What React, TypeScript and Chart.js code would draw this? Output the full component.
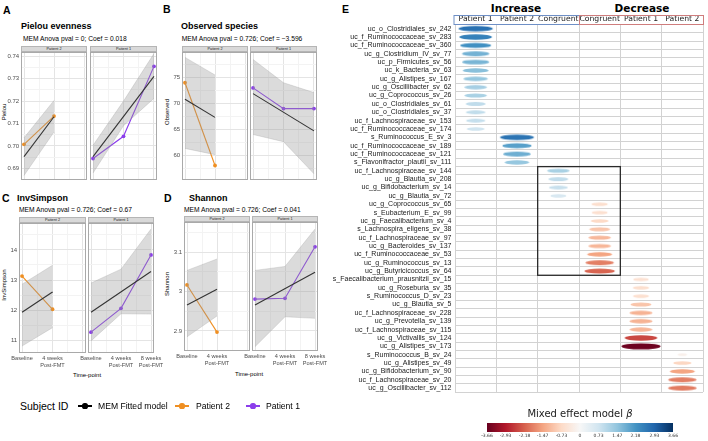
import React, { useEffect, useRef } from "react";
import { Chart, registerables } from "chart.js";
Chart.register(...registerables);

const SANS = "'Liberation Sans', Arial, Helvetica, sans-serif";
const DEJAVU = "'DejaVu Sans', Verdana, sans-serif";

// ---------- Panels A-D data ----------
const timeLabels: (string | string[])[] = ["Baseline", ["4 weeks", "Post-FMT"], ["8 weeks", "Post-FMT"]];
const timeP2 = [1, 2];
const timeP1 = [1, 2, 3];
const fitXP2 = [1, 2];
const fitXP1 = [1, 3];

const pielouTicks = [0.69, 0.7, 0.71, 0.72, 0.73, 0.74];
const pielouTickLabels = ["0.69", "0.70", "0.71", "0.72", "0.73", "0.74"];
const pielouP2 = [0.7007, 0.7133];
const pielouP2Fit = [0.6952, 0.713];
const pielouP2Lo = [0.6868, 0.7062];
const pielouP2Hi = [0.7036, 0.7203];
const pielouP1 = [0.6944, 0.7043, 0.7355];
const pielouP1Fit = [0.6952, 0.731];
const pielouP1Lo = [0.6879, 0.709, 0.7212];
const pielouP1Hi = [0.7003, 0.72, 0.7412];

const observedTicks = [60, 65, 70, 75];
const observedTickLabels = ["60", "65", "70", "75"];
const observedP2 = [74.0, 58.0];
const observedP2Fit = [70.8, 67.3];
const observedP2Lo = [61.3, 60.1];
const observedP2Hi = [78.9, 75.5];
const observedP1 = [73.0, 69.0, 69.0];
const observedP1Fit = [71.9, 64.7];
const observedP1Lo = [64.0, 62.6, 56.4];
const observedP1Hi = [78.5, 74.0, 72.1];

const invSimpsonTicks = [11, 12, 13, 14];
const invSimpsonTickLabels = ["11", "12", "13", "14"];
const invSimpsonP2 = [13.13, 12.03];
const invSimpsonP2Fit = [11.93, 12.6];
const invSimpsonP2Lo = [10.81, 11.42];
const invSimpsonP2Hi = [12.86, 13.49];
const invSimpsonP1 = [11.27, 12.06, 13.83];
const invSimpsonP1Fit = [11.93, 13.28];
const invSimpsonP1Lo = [10.98, 11.88, 11.87];
const invSimpsonP1Hi = [12.9, 13.36, 14.69];

const shannonTicks = [2.9, 3.0, 3.1];
const shannonTickLabels = ["2.9", "3", "3.1"];
const shannonP2 = [3.017, 2.897];
const shannonP2Fit = [2.966, 3.006];
const shannonP2Lo = [2.885, 2.938];
const shannonP2Hi = [3.054, 3.083];
const shannonP1 = [2.981, 2.983, 3.114];
const shannonP1Fit = [2.966, 3.049];
const shannonP1Lo = [2.86, 2.936, 2.932];
const shannonP1Hi = [3.054, 3.064, 3.159];

const ORANGE = "#EF8F22";
const PURPLE = "#8B3DEB";

// ---------- Panel E data ----------
const eColumns = ["Patient 1", "Patient 2", "Congruent", "Congruent", "Patient 1", "Patient 2"];
const taxa = [
  "uc_o_Clostridiales_sv_242",
  "uc_f_Ruminococcaceae_sv_283",
  "uc_f_Ruminococcaceae_sv_360",
  "uc_g_Clostridium_IV_sv_77",
  "uc_p_Firmicutes_sv_56",
  "uc_k_Bacteria_sv_63",
  "uc_g_Alistipes_sv_167",
  "uc_g_Oscillibacter_sv_62",
  "uc_g_Coprococcus_sv_26",
  "uc_o_Clostridiales_sv_61",
  "uc_o_Clostridiales_sv_37",
  "uc_f_Lachnospiraceae_sv_153",
  "uc_f_Ruminococcaceae_sv_174",
  "s_Ruminococcus_E_sv_3",
  "uc_f_Ruminococcaceae_sv_189",
  "uc_f_Ruminococcaceae_sv_121",
  "s_Flavonifractor_plautii_sv_111",
  "uc_f_Lachnospiraceae_sv_144",
  "uc_g_Blautia_sv_208",
  "uc_g_Bifidobacterium_sv_14",
  "uc_g_Blautia_sv_72",
  "uc_g_Coprococcus_sv_65",
  "s_Eubacterium_E_sv_99",
  "uc_g_Faecalibacterium_sv_4",
  "s_Lachnospira_eligens_sv_38",
  "uc_f_Lachnospiraceae_sv_97",
  "uc_g_Bacteroides_sv_137",
  "uc_f_Ruminococcaceae_sv_53",
  "uc_g_Ruminococcus_sv_13",
  "uc_g_Butyricicoccus_sv_64",
  "s_Faecalibacterium_prausnitzii_sv_15",
  "uc_g_Roseburia_sv_35",
  "s_Ruminococcus_D_sv_23",
  "uc_g_Blautia_sv_5",
  "uc_f_Lachnospiraceae_sv_228",
  "uc_g_Prevotella_sv_139",
  "uc_f_Lachnospiraceae_sv_115",
  "uc_g_Victivallis_sv_124",
  "uc_g_Alistipes_sv_173",
  "s_Ruminococcus_B_sv_24",
  "uc_g_Alistipes_sv_49",
  "uc_g_Bifidobacterium_sv_90",
  "uc_f_Lachnospiraceae_sv_20",
  "uc_g_Oscillibacter_sv_112",
];
const taxonColumn = [
  0, 0, 0, 0, 0, 0, 0, 0, 0, 0, 0, 0, 0,
  1, 1, 1, 1,
  2, 2, 2, 2,
  3, 3, 3, 3, 3, 3, 3, 3, 3,
  4, 4, 4, 4, 4, 4, 4, 4, 4,
  5, 5, 5, 5, 5,
];
const taxonBeta = [
  2.75, 2.49, 2.24, 1.74, 1.7, 1.54, 1.42, 1.23, 1.2, 0.93, 0.92, 0.87, 0.73,
  2.7, 2.0, 1.79, 1.42,
  1.2, 0.93, 0.84, 0.6,
  -0.62, -0.6, -0.73, -1.03, -1.2, -1.22, -1.46, -1.87, -2.14,
  -0.57, -0.62, -0.6, -1.03, -1.27, -1.27, -1.23, -2.44, -3.6,
  -0.2, -0.78, -1.46, -1.87, -1.9,
];
const congruentBoxColumns = [2, 3];
const congruentBoxRows = [17, 29];

const colorbarTicks = [-3.66, -2.93, -2.18, -1.47, -0.73, 0, 0.73, 1.47, 2.18, 2.93, 3.66];
const colorbarTickLabels = ["-3.66", "-2.93", "-2.18", "-1.47", "-0.73", "0", "0.73", "1.47", "2.18", "2.93", "3.66"];

const RDBU = ["#67001f", "#b2182b", "#d6604d", "#f4a582", "#fddbc7", "#f7f7f7", "#d1e5f0", "#92c5de", "#4393c3", "#2166ac", "#053061"];

function hexToRgb(h: string) {
  return [parseInt(h.slice(1, 3), 16), parseInt(h.slice(3, 5), 16), parseInt(h.slice(5, 7), 16)];
}
function rdbu(v: number) {
  const lim = colorbarTicks[colorbarTicks.length - 1];
  let t = (v + lim) / (2 * lim);
  t = Math.max(0, Math.min(1, t));
  const p = t * (RDBU.length - 1);
  const i = Math.min(RDBU.length - 2, Math.floor(p));
  const f = p - i;
  const a = hexToRgb(RDBU[i]);
  const b = hexToRgb(RDBU[i + 1]);
  const c = a.map((x, k) => Math.round(x + (b[k] - x) * f));
  return `rgb(${c[0]},${c[1]},${c[2]})`;
}

// ---------- helpers ----------
function Txt(props: any) {
  const { x, y, size, bold, anchor, family, color, children, italic } = props;
  const tx = anchor === "middle" ? "-50%" : anchor === "end" ? "-100%" : "0";
  return (
    <div
      style={{
        position: "absolute",
        left: x,
        top: y,
        transform: `translate(${tx}, -50%)`,
        whiteSpace: "nowrap",
        fontSize: size,
        lineHeight: 1,
        fontWeight: bold ? 700 : 400,
        fontStyle: italic ? "italic" : "normal",
        fontFamily: family || SANS,
        color: color || "#000",
      }}
    >
      {children}
    </div>
  );
}

function VTxt(props: any) {
  const { x, y, size, children } = props;
  return (
    <div
      style={{
        position: "absolute",
        left: x,
        top: y,
        transform: "translate(-50%, -50%) rotate(-90deg)",
        whiteSpace: "nowrap",
        fontSize: size,
        lineHeight: 1,
        fontFamily: SANS,
        color: "#000",
      }}
    >
      {children}
    </div>
  );
}

const panelBorder = {
  id: "panelBorder",
  afterDraw(chart: any) {
    const { ctx, chartArea: a } = chart;
    ctx.save();
    ctx.strokeStyle = "#a9a9a9";
    ctx.lineWidth = 1;
    ctx.strokeRect(a.left + 0.5, a.top + 0.5, a.right - a.left - 1, a.bottom - a.top - 1);
    ctx.restore();
  },
};

function Facet(p: any) {
  const ref = useRef<HTMLCanvasElement>(null);
  const L = 26, R = 16, T = 8;
  const B = p.showX ? 28 : 8;
  const yW = p.showY ? 18 : 0;
  const xH = p.showX ? 20 : 0;
  const [x0, y0, x1, y1] = p.geo;
  const w = x1 - x0 + L + R;
  const h = y1 - y0 + T + B;
  useEffect(() => {
    const step = p.ticks[1] - p.ticks[0];
    const cand: number[] = [...p.ticks];
    cand.push(p.ticks[0] - step / 2);
    p.ticks.forEach((t: number) => cand.push(t + step / 2));
    const yGrid = cand.filter((v) => v > p.yMin && v < p.yMax).sort((a, b) => a - b);
    const majorIdx = (v: number) => p.ticks.findIndex((t: number) => Math.abs(t - v) < step * 1e-3);
    const xGrid = [1, 1.5, 2, 2.5, 3];
    const MAJOR = "#e4e4e4";
    const MINOR = "#f3f3f3";
    const chart = new Chart(ref.current as HTMLCanvasElement, {
      type: "line",
      data: {
        datasets: [
          {
            data: p.obsX.map((x: number, i: number) => ({ x, y: p.hi[i] })),
            fill: "+1",
            backgroundColor: "rgba(150,150,150,0.34)",
            borderColor: "rgba(150,150,150,0.45)",
            borderWidth: 0.6,
            pointRadius: 0,
          },
          {
            data: p.obsX.map((x: number, i: number) => ({ x, y: p.lo[i] })),
            fill: false,
            borderColor: "rgba(150,150,150,0.45)",
            borderWidth: 0.6,
            pointRadius: 0,
          },
          {
            data: p.fitX.map((x: number, i: number) => ({ x, y: p.fit[i] })),
            fill: false,
            borderColor: "#000",
            borderWidth: 1.1,
            pointRadius: 0,
          },
          {
            data: p.obsX.map((x: number, i: number) => ({ x, y: p.obs[i] })),
            fill: false,
            borderColor: p.color,
            backgroundColor: p.color,
            borderWidth: 1.1,
            pointRadius: 1.9,
            pointBorderWidth: 0,
          },
        ],
      },
      options: {
        responsive: false,
        animation: false,
        devicePixelRatio: 1,
        layout: { padding: { left: L - yW, right: R, top: T, bottom: B - xH } },
        plugins: { legend: { display: false }, tooltip: { enabled: false } },
        scales: {
          x: {
            type: "linear",
            min: 0.9,
            max: 3.1,
            afterBuildTicks: (s: any) => {
              s.ticks = xGrid.map((v) => ({ value: v }));
            },
            afterFit: (s: any) => {
              s.height = xH;
            },
            grid: {
              color: (c: any) => (c.tick && Number.isInteger(c.tick.value) ? MAJOR : MINOR),
              lineWidth: 1,
              drawTicks: false,
            },
            border: { display: false },
            ticks: {
              display: p.showX,
              autoSkip: false,
              maxRotation: 0,
              minRotation: 0,
              padding: 2,
              color: "#4d4d4d",
              font: { family: SANS, size: 5.6 },
              callback: (v: any) => {
                const n = Number(v);
                if (!Number.isInteger(n) || n > p.nLabels) return "";
                return timeLabels[n - 1];
              },
            },
          },
          y: {
            type: "linear",
            min: p.yMin,
            max: p.yMax,
            afterBuildTicks: (s: any) => {
              s.ticks = yGrid.map((v) => ({ value: v }));
            },
            afterFit: (s: any) => {
              s.width = yW;
            },
            grid: {
              color: (c: any) => (c.tick && majorIdx(c.tick.value) >= 0 ? MAJOR : MINOR),
              lineWidth: 1,
              drawTicks: false,
            },
            border: { display: false },
            ticks: {
              display: p.showY,
              padding: 1.8,
              color: "#4d4d4d",
              font: { family: SANS, size: 6 },
              callback: (v: any) => {
                const k = majorIdx(Number(v));
                return k >= 0 ? p.tickLabels[k] : "";
              },
            },
          },
        },
      } as any,
      plugins: [panelBorder],
    });
    return () => chart.destroy();
  }, []);
  return (
    <>
      <canvas
        ref={ref}
        width={w}
        height={h}
        style={{ position: "absolute", left: x0 - L, top: y0 - T, width: w, height: h }}
      />
      <div
        style={{
          position: "absolute",
          left: x0,
          top: y0 - p.stripH,
          width: x1 - x0,
          height: p.stripH,
          boxSizing: "border-box",
          background: "#d9d9d9",
          border: "1px solid #b5b5b5",
          fontSize: 3.8,
          lineHeight: `${p.stripH - 2}px`,
          textAlign: "center",
          color: "#1a1a1a",
          fontFamily: SANS,
        }}
      >
        {p.strip}
      </div>
    </>
  );
}

function Panel(p: any) {
  const common = { yMin: p.yMin, yMax: p.yMax, ticks: p.ticks, tickLabels: p.tickLabels, showX: p.showX, stripH: p.stripH };
  return (
    <>
      <Facet
        {...common}
        geo={p.geo1}
        showY={true}
        nLabels={2}
        strip="Patient 2"
        obsX={timeP2}
        obs={p.p2}
        fitX={fitXP2}
        fit={p.p2Fit}
        lo={p.p2Lo}
        hi={p.p2Hi}
        color={ORANGE}
      />
      <Facet
        {...common}
        geo={p.geo2}
        showY={false}
        nLabels={3}
        strip="Patient 1"
        obsX={timeP1}
        obs={p.p1}
        fitX={fitXP1}
        fit={p.p1Fit}
        lo={p.p1Lo}
        hi={p.p1Hi}
        color={PURPLE}
      />
    </>
  );
}

function ellipseCanvas(b: number) {
  const w = 20.7 * Math.sqrt(Math.abs(b));
  const h = 1.5 + 0.12 * w;
  const c = document.createElement("canvas");
  c.width = Math.ceil(w) + 2;
  c.height = Math.ceil(h) + 2;
  const g = c.getContext("2d") as CanvasRenderingContext2D;
  g.fillStyle = rdbu(b);
  g.beginPath();
  g.ellipse(c.width / 2, c.height / 2, w / 2, h / 2, 0, 0, Math.PI * 2);
  g.fill();
  return c;
}

function PanelE() {
  const ref = useRef<HTMLCanvasElement>(null);
  const left = 322, top = 0, W = 386, H = 400;
  useEffect(() => {
    const styles = taxonBeta.map((b) => ellipseCanvas(b));
    const overlay = {
      id: "eOverlay",
      afterDatasetsDraw(chart: any) {
        const { ctx, chartArea: a } = chart;
        const xs = chart.scales.x;
        const ys = chart.scales.y;
        const half = (ys.getPixelForValue(1) - ys.getPixelForValue(0)) / 2;
        ctx.save();
        const l = xs.getPixelForValue(congruentBoxColumns[0] - 0.5);
        const r = xs.getPixelForValue(congruentBoxColumns[1] + 0.5);
        const t = ys.getPixelForValue(congruentBoxRows[0]) - half;
        const b = ys.getPixelForValue(congruentBoxRows[1]) + half;
        ctx.strokeStyle = "#2a2a2a";
        ctx.lineWidth = 1.3;
        ctx.strokeRect(l, t, r - l, b - t);
        const hTop = a.top - 9.5;
        const xl = xs.getPixelForValue(-0.5) - 1.5;
        const xm = xs.getPixelForValue(2.5);
        const xr = xs.getPixelForValue(5.5) + 1;
        ctx.lineWidth = 1;
        ctx.strokeStyle = "#6e8fc6";
        ctx.strokeRect(xl + 0.5, hTop + 0.5, xm - xl, 9);
        ctx.strokeStyle = "#cf7d7d";
        ctx.strokeRect(xm + 0.5, hTop + 0.5, xr - xm - 1, 9);
        ctx.restore();
      },
    };
    const chart = new Chart(ref.current as HTMLCanvasElement, {
      type: "scatter",
      data: {
        datasets: [
          {
            data: taxa.map((t, i) => ({ x: taxonColumn[i], y: t })),
            pointStyle: (c: any) => styles[c.dataIndex],
            pointRadius: 4,
            pointHoverRadius: 4,
          },
        ],
      },
      options: {
        responsive: false,
        animation: false,
        devicePixelRatio: 1,
        layout: { padding: { left: 0, right: 3, top: 14.5, bottom: H - 392.7 } },
        plugins: { legend: { display: false }, tooltip: { enabled: false } },
        scales: {
          x: {
            type: "linear",
            min: -0.5,
            max: 5.5,
            afterBuildTicks: (s: any) => {
              s.ticks = [-0.5, 0.5, 1.5, 2.5, 3.5, 4.5, 5.5].map((v) => ({ value: v }));
            },
            afterFit: (s: any) => {
              s.height = 0;
            },
            ticks: { display: false },
            grid: { color: "#d2d2d2", lineWidth: 1, drawTicks: false },
            border: { display: false },
          },
          xh: {
            type: "linear",
            position: "top",
            min: -0.5,
            max: 5.5,
            afterBuildTicks: (s: any) => {
              s.ticks = eColumns.map((_, i) => ({ value: i }));
            },
            afterFit: (s: any) => {
              s.height = 10;
            },
            grid: { display: false, drawTicks: false },
            border: { display: false },
            ticks: {
              autoSkip: false,
              maxRotation: 0,
              padding: 0.5,
              color: "#222",
              font: { family: DEJAVU, size: 7.7 },
              callback: (v: any) => eColumns[Math.round(Number(v))],
            },
          },
          y: {
            type: "category",
            labels: taxa,
            offset: true,
            afterFit: (s: any) => {
              s.width = 133;
            },
            grid: { offset: true, color: "#d2d2d2", lineWidth: 1, drawTicks: false },
            border: { display: false },
            ticks: {
              autoSkip: false,
              padding: 3.5,
              color: "#1a1a1a",
              font: { family: SANS, size: 7 },
            },
          },
        },
      } as any,
      plugins: [overlay],
    });
    return () => chart.destroy();
  }, []);
  return <canvas ref={ref} width={W} height={H} style={{ position: "absolute", left, top, width: W, height: H }} />;
}

function ColorBar() {
  const ref = useRef<HTMLCanvasElement>(null);
  const left = 470, top = 415, W = 220, H = 26;
  useEffect(() => {
    const grad = {
      id: "grad",
      beforeDatasetsDraw(chart: any) {
        const { ctx, chartArea: a } = chart;
        const g = ctx.createLinearGradient(a.left, 0, a.right, 0);
        RDBU.forEach((c, i) => g.addColorStop(i / (RDBU.length - 1), c));
        ctx.save();
        ctx.fillStyle = g;
        ctx.fillRect(a.left, a.top, a.right - a.left, a.bottom - a.top);
        ctx.restore();
      },
    };
    const chart = new Chart(ref.current as HTMLCanvasElement, {
      type: "scatter",
      data: { datasets: [] },
      options: {
        responsive: false,
        animation: false,
        devicePixelRatio: 1,
        layout: { padding: { left: 17, right: 17, top: 8, bottom: 0 } },
        plugins: { legend: { display: false }, tooltip: { enabled: false } },
        scales: {
          x: {
            type: "linear",
            min: colorbarTicks[0],
            max: colorbarTicks[colorbarTicks.length - 1],
            afterBuildTicks: (s: any) => {
              s.ticks = colorbarTicks.map((v) => ({ value: v }));
            },
            afterFit: (s: any) => {
              s.height = 9;
            },
            grid: { display: false, drawTicks: false },
            border: { display: false },
            ticks: {
              autoSkip: false,
              maxRotation: 0,
              padding: 1.5,
              color: "#333",
              font: { family: DEJAVU, size: 4.5 },
              callback: (_v: any, i: number) => colorbarTickLabels[i],
            },
          },
          y: { display: false, min: 0, max: 1 },
        },
      } as any,
      plugins: [grad],
    });
    return () => chart.destroy();
  }, []);
  return <canvas ref={ref} width={W} height={H} style={{ position: "absolute", left, top, width: W, height: H }} />;
}

function LegendKey({ x, color }: any) {
  return (
    <>
      <div style={{ position: "absolute", left: x - 7, top: 405.4, width: 14, height: 1.3, background: color }} />
      <div
        style={{ position: "absolute", left: x - 2.6, top: 403.4, width: 5.2, height: 5.2, borderRadius: "50%", background: color }}
      />
    </>
  );
}

export default function App() {
  return (
    <div
      style={{
        position: "fixed",
        left: 0,
        top: 0,
        width: 708,
        height: 441,
        background: "#fff",
        overflow: "hidden",
        fontFamily: SANS,
      }}
    >
      <Txt x={3} y={10} size={10.5} bold>A</Txt>
      <Txt x={21} y={26} size={9} bold>Pielou evenness</Txt>
      <Txt x={23} y={39.3} size={6.7}>MEM Anova pval = 0; Coef = 0.018</Txt>
      <Txt x={163} y={8.5} size={10.5} bold>B</Txt>
      <Txt x={181} y={25.7} size={9} bold>Observed species</Txt>
      <Txt x={181.7} y={39} size={6.7}>MEM Anova pval = 0.726; Coef = −3.596</Txt>
      <Txt x={2} y={197.5} size={10.5} bold>C</Txt>
      <Txt x={17} y={197.5} size={9} bold>InvSimpson</Txt>
      <Txt x={19} y={210} size={6.7}>MEM Anova pval = 0.726; Coef = 0.67</Txt>
      <Txt x={164} y={197.5} size={10.5} bold>D</Txt>
      <Txt x={189} y={197.5} size={9} bold>Shannon</Txt>
      <Txt x={184} y={210} size={6.7}>MEM Anova pval = 0.726; Coef = 0.041</Txt>

      <VTxt x={4.2} y={112} size={6}>Pielou</VTxt>
      <VTxt x={166.5} y={112} size={6}>Observed</VTxt>
      <VTxt x={4.2} y={285} size={6}>InvSimpson</VTxt>
      <VTxt x={167} y={284} size={6}>Shannon</VTxt>
      <Txt x={87} y={374.5} size={6} anchor="middle">Time-point</Txt>
      <Txt x={249} y={374} size={6} anchor="middle">Time-point</Txt>

      <Panel
        geo1={[21, 52, 87, 180]}
        geo2={[90, 52, 157, 180]}
        stripH={6.3}
        yMin={0.6848}
        yMax={0.7419}
        ticks={pielouTicks}
        tickLabels={pielouTickLabels}
        showX={false}
        p2={pielouP2}
        p2Fit={pielouP2Fit}
        p2Lo={pielouP2Lo}
        p2Hi={pielouP2Hi}
        p1={pielouP1}
        p1Fit={pielouP1Fit}
        p1Lo={pielouP1Lo}
        p1Hi={pielouP1Hi}
      />
      <Panel
        geo1={[182, 52, 248, 180]}
        geo2={[250, 52, 317, 180]}
        stripH={6.3}
        yMin={55.2}
        yMax={79.94}
        ticks={observedTicks}
        tickLabels={observedTickLabels}
        showX={false}
        p2={observedP2}
        p2Fit={observedP2Fit}
        p2Lo={observedP2Lo}
        p2Hi={observedP2Hi}
        p1={observedP1}
        p1Fit={observedP1Fit}
        p1Lo={observedP1Lo}
        p1Hi={observedP1Hi}
      />
      <Panel
        geo1={[19, 223, 86, 353]}
        geo2={[88, 223, 154, 353]}
        stripH={6}
        yMin={10.58}
        yMax={14.89}
        ticks={invSimpsonTicks}
        tickLabels={invSimpsonTickLabels}
        showX={true}
        p2={invSimpsonP2}
        p2Fit={invSimpsonP2Fit}
        p2Lo={invSimpsonP2Lo}
        p2Hi={invSimpsonP2Hi}
        p1={invSimpsonP1}
        p1Fit={invSimpsonP1Fit}
        p1Lo={invSimpsonP1Lo}
        p1Hi={invSimpsonP1Hi}
      />
      <Panel
        geo1={[184, 222, 250, 351]}
        geo2={[252, 222, 318, 351]}
        stripH={6.3}
        yMin={2.849}
        yMax={3.177}
        ticks={shannonTicks}
        tickLabels={shannonTickLabels}
        showX={true}
        p2={shannonP2}
        p2Fit={shannonP2Fit}
        p2Lo={shannonP2Lo}
        p2Hi={shannonP2Hi}
        p1={shannonP1}
        p1Fit={shannonP1Fit}
        p1Lo={shannonP1Lo}
        p1Hi={shannonP1Hi}
      />

      <Txt x={20} y={406} size={10.5}>Subject ID</Txt>
      <LegendKey x={85} color="#000" />
      <Txt x={98} y={406} size={8.6}>MEM Fitted model</Txt>
      <LegendKey x={182} color={ORANGE} />
      <Txt x={196} y={406} size={8.6}>Patient 2</Txt>
      <LegendKey x={253} color={PURPLE} />
      <Txt x={266} y={406} size={8.6}>Patient 1</Txt>

      <Txt x={342} y={8.5} size={10.5} bold>E</Txt>
      <Txt x={516} y={8.3} size={10.5} bold family={DEJAVU} anchor="middle">Increase</Txt>
      <Txt x={642} y={8.3} size={10.5} bold family={DEJAVU} anchor="middle">Decrease</Txt>
      <PanelE />
      <Txt x={580} y={414} size={10} family={DEJAVU} anchor="middle" color="#222">
        Mixed effect model <i>β</i>
      </Txt>
      <ColorBar />
    </div>
  );
}
